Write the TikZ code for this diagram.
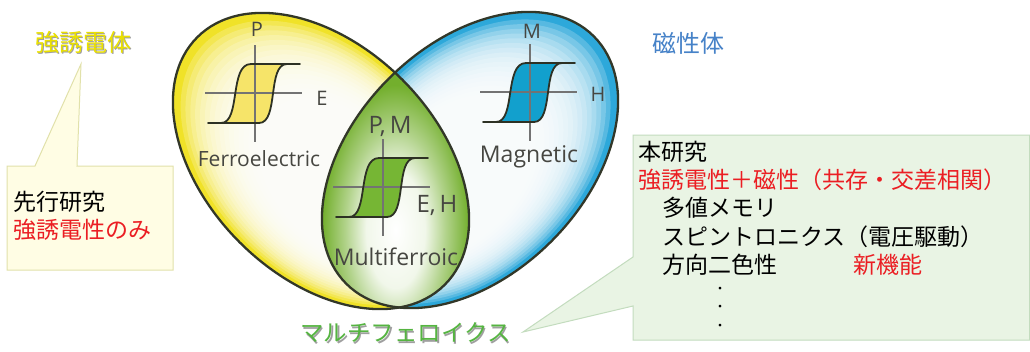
\documentclass[tikz,border=0pt]{standalone}
\usepackage{fontspec}
\newfontfamily\jp{Noto Sans CJK JP}
\newfontfamily\hand{Open Sans}
\definecolor{yelC}{RGB}{240,226,40}
\definecolor{bluC}{RGB}{45,168,218}
\definecolor{grnC}{RGB}{115,175,45}
\definecolor{yelL}{RGB}{246,228,105}
\definecolor{bluL}{RGB}{18,160,205}
\definecolor{grnL}{RGB}{118,182,52}
\definecolor{edgeC}{RGB}{50,55,40}
\definecolor{axisC}{RGB}{115,115,115}
\definecolor{handC}{RGB}{70,70,65}
\definecolor{txtred}{RGB}{235,30,35}
\definecolor{magblue}{RGB}{70,130,200}
\definecolor{mfgreen}{RGB}{85,180,65}
\definecolor{titleyel}{RGB}{235,225,0}
\definecolor{boxY}{RGB}{255,253,228}
\definecolor{boxYb}{RGB}{225,225,170}
\definecolor{boxG}{RGB}{233,244,228}
\definecolor{boxGb}{RGB}{195,220,190}
\pgfdeclareradialshading{grnshade}{\pgfpoint{0bp}{0bp}}{color(0bp)=(white); color(10bp)=(grnC!10!white); color(17bp)=(grnC!55!white); color(25bp)=(grnC); color(50bp)=(grnC)}
\tikzset{
  outline/.style={draw=edgeC, line width=2.3pt},
  axisline/.style={draw=axisC, line width=1.3pt},
  loopline/.style={draw=edgeC!90!black, line width=1.8pt, line join=round},
  glow/.style={fill=white, opacity=0.2},
  hlab/.style={font=\hand\fontsize{20}{22}\selectfont, text=handC, inner sep=0pt},
  hname/.style={font=\hand\fontsize{21}{24}\selectfont, text=handC, inner sep=0pt},
  jtxt/.style={font=\jp\fontsize{23}{28}\selectfont, inner sep=0pt, anchor=west},
  shadowtxt/.style={text=black!75, opacity=0.5},
  dotstyle/.style={font=\jp\fontsize{13}{13}\selectfont, inner sep=0pt},
}
\newcommand\looppath{(-47,30) -- (-34,30) .. controls (-14,30) and (-26,-29) .. (-4,-29) -- (45,-29) -- (32,-29)
      .. controls (12,-29) and (24,30) .. (4,30) -- cycle}
\newcommand\hloop[3]{%
  \begin{scope}[shift={(#1,#2)}]
    \fill[#3] \looppath;
    \draw[axisline] (0,-48) -- (0,49);
    \draw[axisline] (-50,0) -- (47,0);
    \draw[loopline] \looppath;
  \end{scope}}
\newcommand\yelpath{[rotate around={-45:(321,161)}] (321,161) ellipse [x radius=175, y radius=115]}
\newcommand\blupath{[rotate around={45:(470,160)}] (470,160) ellipse [x radius=175, y radius=115]}
% glowing ellipse: center x, center y, angle, colour, shift dx, shift dy
\newcommand\glowell[6]{%
  \fill[#4, rotate around={#3:(#1,#2)}] (#1,#2) ellipse [x radius=175, y radius=115];
  \foreach \s in {0.96,0.935,...,0.55} {
    \pgfmathsetmacro\grx{175*\s}
    \pgfmathsetmacro\gry{115*\s}
    \pgfmathsetmacro\gcx{#1+#5*(1-\s)}
    \pgfmathsetmacro\gcy{#2+#6*(1-\s)}
    \fill[glow, rotate around={#3:(\gcx,\gcy)}] (\gcx,\gcy) ellipse [x radius=\grx, y radius=\gry];
  }}
\begin{document}
\begin{tikzpicture}[x=1pt,y=-1pt]
\useasboundingbox[fill=white] (0,0) rectangle (1030,351);
% ellipses
\glowell{321}{161}{-45}{yelC}{45}{45}
\glowell{470}{160}{45}{bluC}{-40}{40}
\begin{scope}
  \clip\yelpath;
  \clip\blupath;
  \fill[grnC] (318,60) rectangle (475,320);
  \shade[shading=grnshade] (322,85) rectangle (469,375);
\end{scope}
\draw[outline]\yelpath;
\draw[outline]\blupath;
% loops
\hloop{255}{93}{yelL}
\hloop{530}{92}{bluL}
\hloop{383}{187}{grnL}
% hand labels
\node[hlab] (lP) at (257,29) {P};
\node[hlab] (lE) at (322,98) {E};
\node[hname] (lFe) at (259,159) {Ferroelectric};
\node[hlab] (lM) at (532,31) {M};
\node[hlab] (lH) at (598,94) {H};
\node[hname, font=\hand\fontsize{23}{24}\selectfont] (lMag) at (529,157) {Magnetic};
\node[hlab, font=\hand\fontsize{24}{26}\selectfont] (lPM) at (390,126) {P,\,M};
\node[hlab, font=\hand\fontsize{24}{26}\selectfont] (lEH) at (437,205) {E,\,H};
\node[hname, font=\hand\fontsize{23}{24}\selectfont] (lMf) at (396,257) {Multiferroic};
% titles
\node[jtxt, shadowtxt, font=\jp\fontsize{24}{28}\selectfont] (t1s) at (36.5,43.5) {強誘電体};
\node[jtxt, text=titleyel, font=\jp\fontsize{24}{28}\selectfont] (t1) at (35,42) {強誘電体};
\node[jtxt, text=magblue, font=\jp\fontsize{24}{28}\selectfont] (t2) at (652,43) {磁性体};
\node[jtxt, shadowtxt, font=\jp\fontsize{23.5}{28}\selectfont] (t3s) at (301.5,334.5) {マルチフェロイクス};
\node[jtxt, text=mfgreen, font=\jp\fontsize{23.5}{28}\selectfont] (t3) at (300,333) {マルチフェロイクス};
% left callout
\draw[fill=boxY, draw=boxYb, line width=1pt] (7,166) -- (35,166) -- (81,64) -- (77,166) -- (173,166) -- (173,270) -- (7,270) -- cycle;
\node[jtxt] (c1a) at (13,202) {先行研究};
\node[jtxt, text=txtred] (c1b) at (13,230) {強誘電性のみ};
% right callout
\draw[fill=boxG, draw=boxGb, line width=1pt] (633,135) -- (1029.5,135) -- (1029.5,340) -- (633,340) -- (633,306) -- (523,332) -- (633,257) -- cycle;
\node[jtxt] (c2a) at (638,152) {本研究};
\node[jtxt, text=txtred] (c2b) at (638,180) {強誘電性＋磁性（共存・交差相関）};
\node[jtxt] (c2c) at (662,208) {多値メモリ};
\node[jtxt] (c2d) at (662,237) {スピントロニクス（電圧駆動）};
\node[jtxt] (c2e) at (662,265) {方向二色性};
\node[jtxt, text=txtred] (c2f) at (853,265) {新機能};
\node[dotstyle] (d1) at (720,290) {・};
\node[dotstyle] (d2) at (720,308) {・};
\node[dotstyle] (d3) at (720,327) {・};
\end{tikzpicture}
\end{document}
